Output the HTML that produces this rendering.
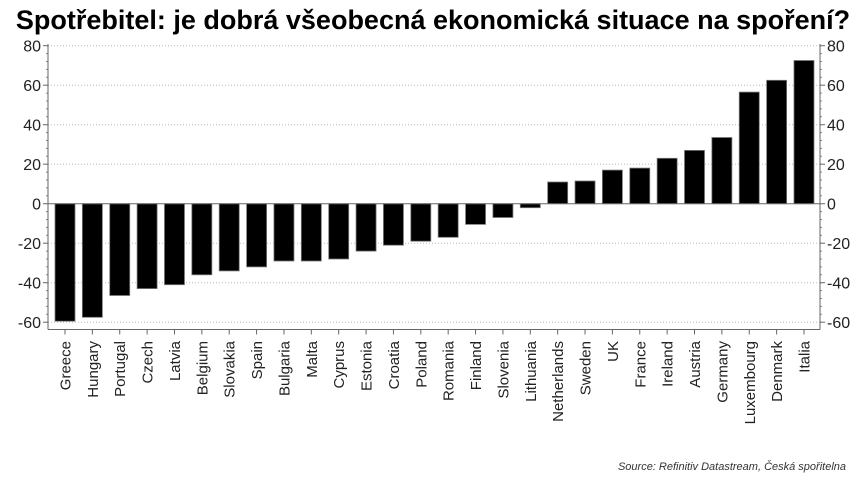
<!DOCTYPE html>
<html><head><meta charset="utf-8"><style>body{margin:0;background:#fff}svg{display:block}</style></head><body>
<svg width="865" height="485" xmlns="http://www.w3.org/2000/svg" font-family="Liberation Sans, Arial, sans-serif">
<text x="433" y="29" text-anchor="middle" font-size="27" font-weight="bold" fill="#000">Spotřebitel: je dobrá všeobecná ekonomická situace na spoření?</text>
<g stroke="#bbb" stroke-dasharray="1,2">
<line x1="48" x2="820" y1="45.7" y2="45.7"/><line x1="48" x2="820" y1="85.2" y2="85.2"/><line x1="48" x2="820" y1="124.7" y2="124.7"/><line x1="48" x2="820" y1="164.2" y2="164.2"/><line x1="48" x2="820" y1="243.2" y2="243.2"/><line x1="48" x2="820" y1="282.7" y2="282.7"/><line x1="48" x2="820" y1="322.2" y2="322.2"/>
</g>
<g font-size="16" fill="#222" text-anchor="end">
<text x="41" y="51.5">80</text><text x="41" y="91">60</text><text x="41" y="130.5">40</text><text x="41" y="170">20</text><text x="41" y="209.5">0</text><text x="41" y="249">-20</text><text x="41" y="288.5">-40</text><text x="41" y="328">-60</text>
</g>
<g font-size="16" fill="#222">
<text x="827" y="51.5">80</text><text x="827" y="91">60</text><text x="827" y="130.5">40</text><text x="827" y="170">20</text><text x="827" y="209.5">0</text><text x="827" y="249">-20</text><text x="827" y="288.5">-40</text><text x="827" y="328">-60</text>
</g>
<g stroke="#666">
<line x1="43" x2="48" y1="45.7" y2="45.7"/><line x1="43" x2="48" y1="85.2" y2="85.2"/><line x1="43" x2="48" y1="124.7" y2="124.7"/><line x1="43" x2="48" y1="164.2" y2="164.2"/><line x1="43" x2="48" y1="203.7" y2="203.7"/><line x1="43" x2="48" y1="243.2" y2="243.2"/><line x1="43" x2="48" y1="282.7" y2="282.7"/><line x1="43" x2="48" y1="322.2" y2="322.2"/>
<line x1="820" x2="825" y1="45.7" y2="45.7"/><line x1="820" x2="825" y1="85.2" y2="85.2"/><line x1="820" x2="825" y1="124.7" y2="124.7"/><line x1="820" x2="825" y1="164.2" y2="164.2"/><line x1="820" x2="825" y1="203.7" y2="203.7"/><line x1="820" x2="825" y1="243.2" y2="243.2"/><line x1="820" x2="825" y1="282.7" y2="282.7"/><line x1="820" x2="825" y1="322.2" y2="322.2"/>
</g>
<line x1="47" x2="47" y1="45.2" y2="323" stroke="#888" stroke-width="2" stroke-dasharray="1,6.9"/>
<line x1="821" x2="821" y1="45.2" y2="323" stroke="#888" stroke-width="2" stroke-dasharray="1,6.9"/>
<g fill="#000" stroke="#777" stroke-width="0.8">
<rect x="55" y="203.7" width="20" height="117.5"/>
<rect x="82.37" y="203.7" width="20" height="113.6"/>
<rect x="109.74" y="203.7" width="20" height="91.8"/>
<rect x="137.11" y="203.7" width="20" height="84.9"/>
<rect x="164.48" y="203.7" width="20" height="81"/>
<rect x="191.85" y="203.7" width="20" height="71.1"/>
<rect x="219.22" y="203.7" width="20" height="67.2"/>
<rect x="246.59" y="203.7" width="20" height="63.2"/>
<rect x="273.96" y="203.7" width="20" height="57.3"/>
<rect x="301.33" y="203.7" width="20" height="57.3"/>
<rect x="328.7" y="203.7" width="20" height="55.3"/>
<rect x="356.07" y="203.7" width="20" height="47.4"/>
<rect x="383.44" y="203.7" width="20" height="41.5"/>
<rect x="410.81" y="203.7" width="20" height="37.5"/>
<rect x="438.18" y="203.7" width="20" height="33.6"/>
<rect x="465.55" y="203.7" width="20" height="20.7"/>
<rect x="492.92" y="203.7" width="20" height="13.8"/>
<rect x="520.29" y="203.7" width="20" height="4"/>
<rect x="547.66" y="182" width="20" height="21.7"/>
<rect x="575.03" y="181" width="20" height="22.7"/>
<rect x="602.4" y="170.1" width="20" height="33.6"/>
<rect x="629.77" y="168.1" width="20" height="35.6"/>
<rect x="657.14" y="158.3" width="20" height="45.4"/>
<rect x="684.51" y="150.4" width="20" height="53.3"/>
<rect x="711.88" y="137.5" width="20" height="66.2"/>
<rect x="739.25" y="92.1" width="20" height="111.6"/>
<rect x="766.62" y="80.3" width="20" height="123.4"/>
<rect x="793.99" y="60.5" width="20" height="143.2"/>
</g>
<line x1="48" x2="820" y1="203.7" y2="203.7" stroke="#666"/>
<g stroke="#666">
<line x1="48" x2="48" y1="44" y2="329.5"/><line x1="820" x2="820" y1="44" y2="329.5"/><line x1="48" x2="820" y1="329.5" y2="329.5"/>
<line x1="65" x2="65" y1="329.5" y2="334.5"/><line x1="92.37" x2="92.37" y1="329.5" y2="334.5"/><line x1="119.74" x2="119.74" y1="329.5" y2="334.5"/><line x1="147.11" x2="147.11" y1="329.5" y2="334.5"/><line x1="174.48" x2="174.48" y1="329.5" y2="334.5"/><line x1="201.85" x2="201.85" y1="329.5" y2="334.5"/><line x1="229.22" x2="229.22" y1="329.5" y2="334.5"/><line x1="256.59" x2="256.59" y1="329.5" y2="334.5"/><line x1="283.96" x2="283.96" y1="329.5" y2="334.5"/><line x1="311.33" x2="311.33" y1="329.5" y2="334.5"/><line x1="338.7" x2="338.7" y1="329.5" y2="334.5"/><line x1="366.07" x2="366.07" y1="329.5" y2="334.5"/><line x1="393.44" x2="393.44" y1="329.5" y2="334.5"/><line x1="420.81" x2="420.81" y1="329.5" y2="334.5"/><line x1="448.18" x2="448.18" y1="329.5" y2="334.5"/><line x1="475.55" x2="475.55" y1="329.5" y2="334.5"/><line x1="502.92" x2="502.92" y1="329.5" y2="334.5"/><line x1="530.29" x2="530.29" y1="329.5" y2="334.5"/><line x1="557.66" x2="557.66" y1="329.5" y2="334.5"/><line x1="585.03" x2="585.03" y1="329.5" y2="334.5"/><line x1="612.4" x2="612.4" y1="329.5" y2="334.5"/><line x1="639.77" x2="639.77" y1="329.5" y2="334.5"/><line x1="667.14" x2="667.14" y1="329.5" y2="334.5"/><line x1="694.51" x2="694.51" y1="329.5" y2="334.5"/><line x1="721.88" x2="721.88" y1="329.5" y2="334.5"/><line x1="749.25" x2="749.25" y1="329.5" y2="334.5"/><line x1="776.62" x2="776.62" y1="329.5" y2="334.5"/><line x1="803.99" x2="803.99" y1="329.5" y2="334.5"/>
</g>
<g font-size="15" fill="#222" text-anchor="end">
<text transform="translate(70.5,341) rotate(-90)">Greece</text>
<text transform="translate(97.87,341) rotate(-90)">Hungary</text>
<text transform="translate(125.24,341) rotate(-90)">Portugal</text>
<text transform="translate(152.61,341) rotate(-90)">Czech</text>
<text transform="translate(179.98,341) rotate(-90)">Latvia</text>
<text transform="translate(207.35,341) rotate(-90)">Belgium</text>
<text transform="translate(234.72,341) rotate(-90)">Slovakia</text>
<text transform="translate(262.09,341) rotate(-90)">Spain</text>
<text transform="translate(289.46,341) rotate(-90)">Bulgaria</text>
<text transform="translate(316.83,341) rotate(-90)">Malta</text>
<text transform="translate(344.2,341) rotate(-90)">Cyprus</text>
<text transform="translate(371.57,341) rotate(-90)">Estonia</text>
<text transform="translate(398.94,341) rotate(-90)">Croatia</text>
<text transform="translate(426.31,341) rotate(-90)">Poland</text>
<text transform="translate(453.68,341) rotate(-90)">Romania</text>
<text transform="translate(481.05,341) rotate(-90)">Finland</text>
<text transform="translate(508.42,341) rotate(-90)">Slovenia</text>
<text transform="translate(535.79,341) rotate(-90)">Lithuania</text>
<text transform="translate(563.16,341) rotate(-90)">Netherlands</text>
<text transform="translate(590.53,341) rotate(-90)">Sweden</text>
<text transform="translate(617.9,341) rotate(-90)">UK</text>
<text transform="translate(645.27,341) rotate(-90)">France</text>
<text transform="translate(672.64,341) rotate(-90)">Ireland</text>
<text transform="translate(700.01,341) rotate(-90)">Austria</text>
<text transform="translate(727.38,341) rotate(-90)">Germany</text>
<text transform="translate(754.75,341) rotate(-90)">Luxembourg</text>
<text transform="translate(782.12,341) rotate(-90)">Denmark</text>
<text transform="translate(809.49,341) rotate(-90)">Italia</text>
</g>
<text x="846" y="470" text-anchor="end" font-size="11" font-style="italic" fill="#333">Source: Refinitiv Datastream, Česká spořitelna</text>
</svg>
</body></html>
